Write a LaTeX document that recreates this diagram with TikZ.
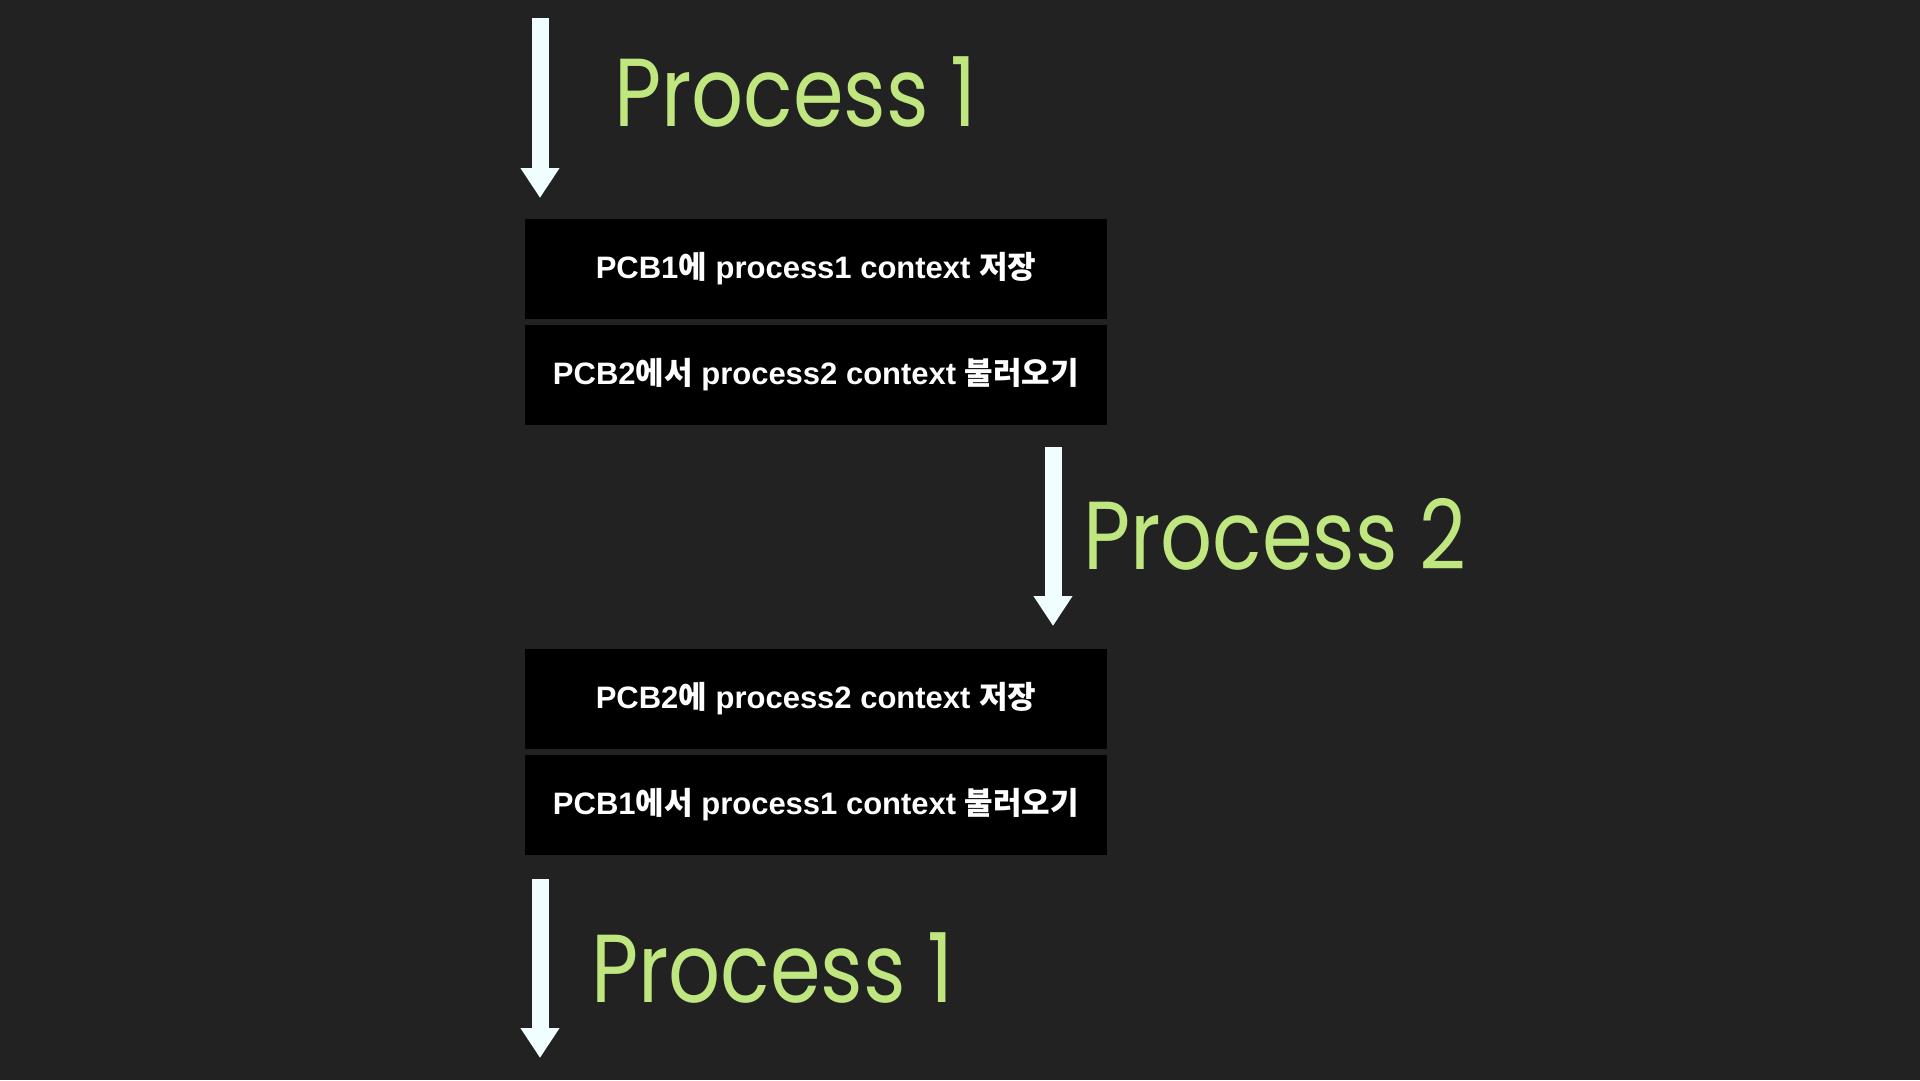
\documentclass[tikz,border=0pt]{standalone}
\usepackage{fontspec}
\setmainfont{Liberation Sans}
\newfontfamily\krfont{Noto Sans CJK KR}
\newfontfamily\handfont{Poppins}
\newcommand\krtxt[1]{{\krfont\bfseries #1}}
\usetikzlibrary{arrows.meta}
\definecolor{bgc}{RGB}{34,34,34}
\definecolor{arrowc}{RGB}{240,254,255}
\definecolor{greenc}{RGB}{192,230,128}
\tikzset{
  ctxbox/.style={fill=black, minimum width=582pt, minimum height=100pt, inner sep=0pt,
    text=white, font=\fontsize{31}{36}\selectfont\bfseries},
  flowarrow/.style={draw=arrowc, line width=17pt, -{Triangle[width=37pt,length=30pt]}},
  proclabel/.style={text=greenc, font=\fontsize{84}{96}\handfont, inner sep=0pt, anchor=west, yscale=1.15, xscale=0.97}
}
\begin{document}
\begin{tikzpicture}[x=1pt,y=-1pt]
\fill[bgc] (0,0) rectangle (1920,1080);
\useasboundingbox (0,0) rectangle (1920,1080);

% arrows
\coordinate (a1s) at (540,18);
\coordinate (a1e) at (540,198);
\coordinate (a2s) at (1053,447);
\coordinate (a2e) at (1053,626);
\coordinate (a3s) at (540,879);
\coordinate (a3e) at (540,1058);
\draw[flowarrow] (a1s) -- (a1e);
\draw[flowarrow] (a2s) -- (a2e);
\draw[flowarrow] (a3s) -- (a3e);

% labels
\node[proclabel] (p1) at (614,92) {Process 1};
\node[proclabel] (p2) at (1083,534) {Process 2};
\node[proclabel] (p3) at (591,968) {Process 1};

% boxes
\node[ctxbox] (b1) at (816,269) {PCB1\krtxt{에} process1 context \krtxt{저장}};
\node[ctxbox] (b2) at (816,375) {PCB2\krtxt{에서} process2 context \krtxt{불러오기}};
\node[ctxbox] (b3) at (816,699) {PCB2\krtxt{에} process2 context \krtxt{저장}};
\node[ctxbox] (b4) at (816,805) {PCB1\krtxt{에서} process1 context \krtxt{불러오기}};
\end{tikzpicture}
\end{document}
